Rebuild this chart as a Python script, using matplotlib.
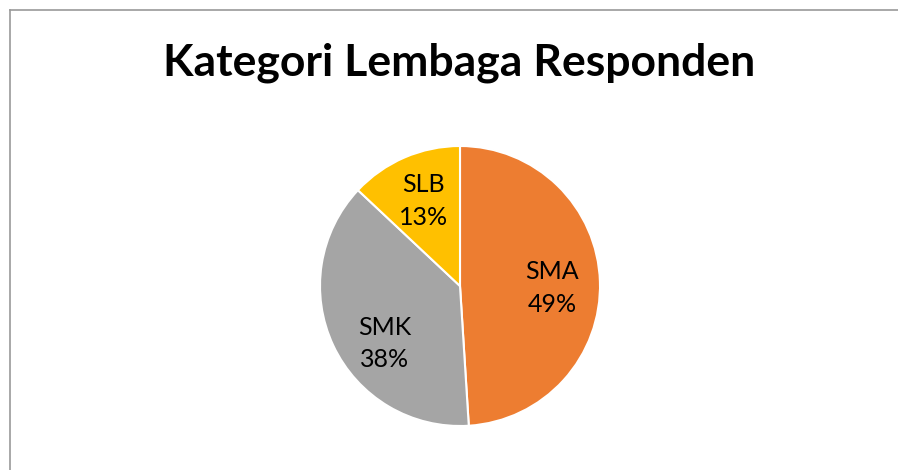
import matplotlib
matplotlib.use("Agg")
import matplotlib.pyplot as plt
from matplotlib.lines import Line2D

# Data
categories = ["SMA", "SMK", "SLB"]
percentages = [49, 38, 13]
colors = ["#ED7D31", "#A5A5A5", "#FFC000"]
title = "Kategori Lembaga Responden"

W, H = 898, 470
fig = plt.figure(figsize=(W / 100, H / 100), dpi=100)
fig.patch.set_facecolor("white")

# chart area border (only left and top visible in the crop)
fig.add_artist(Line2D([10 / W, 10 / W], [0, 1 - 10 / H], transform=fig.transFigure,
                      color="#9a9a9a", lw=1.2))
fig.add_artist(Line2D([10 / W, 1], [1 - 10 / H, 1 - 10 / H], transform=fig.transFigure,
                      color="#9a9a9a", lw=1.2))

fig.text(459 / W, 1 - 63 / H, title, ha="center", va="center",
         fontsize=32, fontweight="bold", family=["Lato", "DejaVu Sans"], color="black")

# pie: centre (460, 286), radius 140 px
cx, cy, r = 460, 286, 140
ax = fig.add_axes([(cx - r) / W, (H - cy - r) / H, 2 * r / W, 2 * r / H])
labels = [f"{c}\n{p}%" for c, p in zip(categories, percentages)]
wedges, texts = ax.pie(percentages, labels=labels, colors=colors, startangle=90,
                       counterclock=False, labeldistance=0.66,
                       wedgeprops=dict(edgecolor="white", linewidth=1.5))

# Excel's best-fit placement sits a little off the mid-angle for some slices
nudge = {"SMA": (0.0, -0.035), "SMK": (0.06, -0.13)}
for name, t in zip(categories, texts):
    dx, dy = nudge.get(name, (0.0, 0.0))
    x, y = t.get_position()
    t.set_position((x + dx, y + dy))
    t.set_ha("center")
    t.set_va("center")
    t.set_fontsize(18)
    t.set_family(["Lato", "DejaVu Sans"])
    t.set_linespacing(1.5)
ax.set_xlim(-1, 1)
ax.set_ylim(-1, 1)
ax.set_aspect("equal")

fig.savefig("out.png", dpi=100)
